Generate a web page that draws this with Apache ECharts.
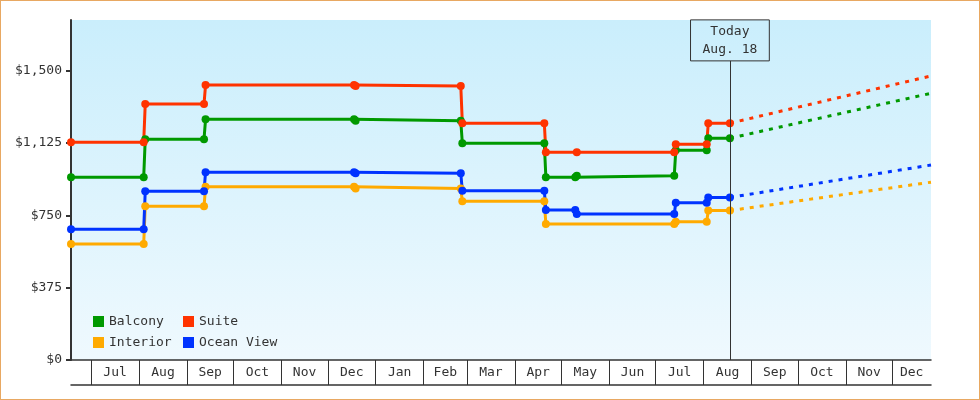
<!DOCTYPE html>
<html>
<head>
<meta charset="utf-8">
<script src="https://cdn.jsdelivr.net/npm/echarts@6/dist/echarts.min.js"></script>
<style>
  html, body { margin: 0; padding: 0; background: #fff; }
  #chart { width: 980px; height: 400px; box-sizing: border-box; border: 1px solid #e8a862; }
</style>
</head>
<body>
<div id="chart"></div>
<script>
// cabin price history, one [date, price] pair per point
var balcony = [
  ['2017-06-18', 948], ['2017-08-04', 948], ['2017-08-05', 1145], ['2017-09-12', 1145],
  ['2017-09-13', 1249], ['2017-12-18', 1249], ['2017-12-19', 1240], ['2018-02-25', 1240],
  ['2018-02-26', 1124], ['2018-04-20', 1124], ['2018-04-21', 948], ['2018-05-10', 948],
  ['2018-05-11', 955], ['2018-07-13', 955], ['2018-07-14', 1087], ['2018-08-03', 1087],
  ['2018-08-04', 1150], ['2018-08-18', 1150]
];
var suite = [
  ['2017-06-18', 1129], ['2017-08-04', 1129], ['2017-08-05', 1328], ['2017-09-12', 1328],
  ['2017-09-13', 1426], ['2017-12-18', 1426], ['2017-12-19', 1421], ['2018-02-25', 1421],
  ['2018-02-26', 1228], ['2018-04-20', 1228], ['2018-04-21', 1077], ['2018-05-11', 1077],
  ['2018-07-13', 1077], ['2018-07-14', 1119], ['2018-08-03', 1119], ['2018-08-04', 1228],
  ['2018-08-18', 1228]
];
var interior = [
  ['2017-06-18', 602], ['2017-08-04', 602], ['2017-08-05', 797], ['2017-09-12', 797],
  ['2017-09-13', 898], ['2017-12-18', 898], ['2017-12-19', 889], ['2018-02-25', 889],
  ['2018-02-26', 823], ['2018-04-20', 823], ['2018-04-21', 705], ['2018-07-13', 705],
  ['2018-07-14', 717], ['2018-08-03', 717], ['2018-08-04', 775], ['2018-08-18', 775]
];
var oceanView = [
  ['2017-06-18', 678], ['2017-08-04', 678], ['2017-08-05', 875], ['2017-09-12', 875],
  ['2017-09-13', 974], ['2017-12-18', 974], ['2017-12-19', 968], ['2018-02-25', 968],
  ['2018-02-26', 877], ['2018-04-20', 877], ['2018-04-21', 778], ['2018-05-10', 778],
  ['2018-05-11', 757], ['2018-07-13', 757], ['2018-07-14', 815], ['2018-08-03', 815],
  ['2018-08-04', 843], ['2018-08-18', 843]
];

// projected price at the end of the axis
var forecastEnd = '2018-12-26';
var balconyForecast = [['2018-08-18', 1150], [forecastEnd, 1383]];
var suiteForecast = [['2018-08-18', 1228], [forecastEnd, 1473]];
var interiorForecast = [['2018-08-18', 775], [forecastEnd, 922]];
var oceanForecast = [['2018-08-18', 843], [forecastEnd, 1011]];

var seriesNames = ['Balcony', 'Suite', 'Interior', 'Ocean View'];
var seriesColors = ['#009900', '#ff3300', '#ffaa00', '#0033ff'];

var yTicks = [0, 375, 750, 1125, 1500];
var yMax = 1763;
var xMin = '2017-06-18';
var xMax = forecastEnd;
var monthNames = ['Jan', 'Feb', 'Mar', 'Apr', 'May', 'Jun', 'Jul', 'Aug', 'Sep', 'Oct', 'Nov', 'Dec'];

var today = '2018-08-18';
var todayText = 'Today\nAug. 18';
var todayLineTop = 1551;

var FONT = 'DejaVu Sans Mono';

function toTime(s) {
  var p = s.split('-');
  return new Date(+p[0], +p[1] - 1, +p[2]).getTime();
}
function toPoints(list) {
  return list.map(function (p) { return [toTime(p[0]), p[1]]; });
}

// month boundaries make the boxes, labels sit in the middle of each box
var minTs = toTime(xMin), maxTs = toTime(xMax);
var monthStarts = [];
var d = new Date(2017, 6, 1);
while (d.getTime() <= maxTs) {
  monthStarts.push(d.getTime());
  d = new Date(d.getFullYear(), d.getMonth() + 1, 1);
}
var labelPos = [];
for (var i = 0; i < monthStarts.length; i++) {
  var next = i + 1 < monthStarts.length ? monthStarts[i + 1] : maxTs;
  labelPos.push((monthStarts[i] + next) / 2);
}

function money(v) {
  return '$' + String(v).replace(/\B(?=(\d{3})+(?!\d))/g, ',');
}

var priceHistory = [balcony, suite, interior, oceanView];
var forecasts = [balconyForecast, suiteForecast, interiorForecast, oceanForecast];

var series = [];
for (var k = 0; k < priceHistory.length; k++) {
  series.push({
    name: seriesNames[k] + ' forecast',
    type: 'line',
    data: toPoints(forecasts[k]),
    showSymbol: false,
    symbol: 'none',
    silent: true,
    lineStyle: { color: seriesColors[k], width: 3, type: [4, 6] },
    itemStyle: { color: seriesColors[k] },
    z: 2
  });
}
for (var k = 0; k < priceHistory.length; k++) {
  var s = {
    name: seriesNames[k],
    type: 'line',
    data: toPoints(priceHistory[k]),
    symbol: 'circle',
    symbolSize: 8,
    lineStyle: { color: seriesColors[k], width: 3 },
    itemStyle: { color: seriesColors[k] },
    z: 3
  };
  if (k === 0) {
    s.markLine = {
      silent: true,
      symbol: 'none',
      animation: false,
      lineStyle: { color: '#333', width: 1, type: 'solid' },
      label: {
        show: true,
        position: 'start',
        distance: 0,
        formatter: todayText,
        fontFamily: FONT,
        fontSize: 13,
        lineHeight: 18,
        color: '#333',
        borderColor: '#333',
        borderWidth: 1,
        padding: [3, 12, 2, 12]
      },
      emphasis: { disabled: true },
      data: [[{ coord: [toTime(today), todayLineTop] }, { coord: [toTime(today), 0] }]]
    };
  }
  series.push(s);
}

var chart = echarts.init(document.getElementById('chart'));
chart.setOption({
  animation: false,
  grid: {
    left: 70, right: 48, top: 19, bottom: 39,
    show: true,
    borderWidth: 0,
    backgroundColor: new echarts.graphic.LinearGradient(0, 0, 0, 1, [
      { offset: 0, color: '#caeefc' },
      { offset: 1, color: '#eff9fe' }
    ])
  },
  legend: {
    data: seriesNames,
    left: 92,
    top: 314,
    width: 210,
    padding: 0,
    itemGap: 8,
    itemWidth: 11,
    itemHeight: 11,
    icon: 'rect',
    selectedMode: false,
    textStyle: { fontFamily: FONT, fontSize: 13, color: '#333', width: 66, lineHeight: 12 }
  },
  xAxis: [{
    type: 'value',
    min: minTs,
    max: maxTs,
    axisLine: { show: true, lineStyle: { color: '#333', width: 1.5 } },
    axisTick: { show: true, customValues: monthStarts, length: 25, inside: false, lineStyle: { color: '#333', width: 1 } },
    axisLabel: {
      customValues: labelPos,
      margin: 6,
      fontFamily: FONT,
      fontSize: 13,
      color: '#333',
      formatter: function (v) { return monthNames[new Date(v).getMonth()]; }
    },
    splitLine: { show: false }
  }, {
    type: 'value',
    min: minTs,
    max: maxTs,
    position: 'bottom',
    offset: 25,
    axisLine: { show: true, lineStyle: { color: '#333', width: 1.5 } },
    axisTick: { show: false },
    axisLabel: { show: false },
    splitLine: { show: false }
  }],
  yAxis: {
    type: 'value',
    min: 0,
    max: yMax,
    axisLine: { show: true, lineStyle: { color: '#333', width: 2 } },
    axisTick: { show: true, customValues: yTicks, length: 5, lineStyle: { color: '#333', width: 2 } },
    axisLabel: {
      customValues: yTicks,
      margin: 9,
      fontFamily: FONT,
      fontSize: 13,
      color: '#333',
      formatter: money
    },
    splitLine: { show: false }
  },
  series: series
});
</script>
</body>
</html>
